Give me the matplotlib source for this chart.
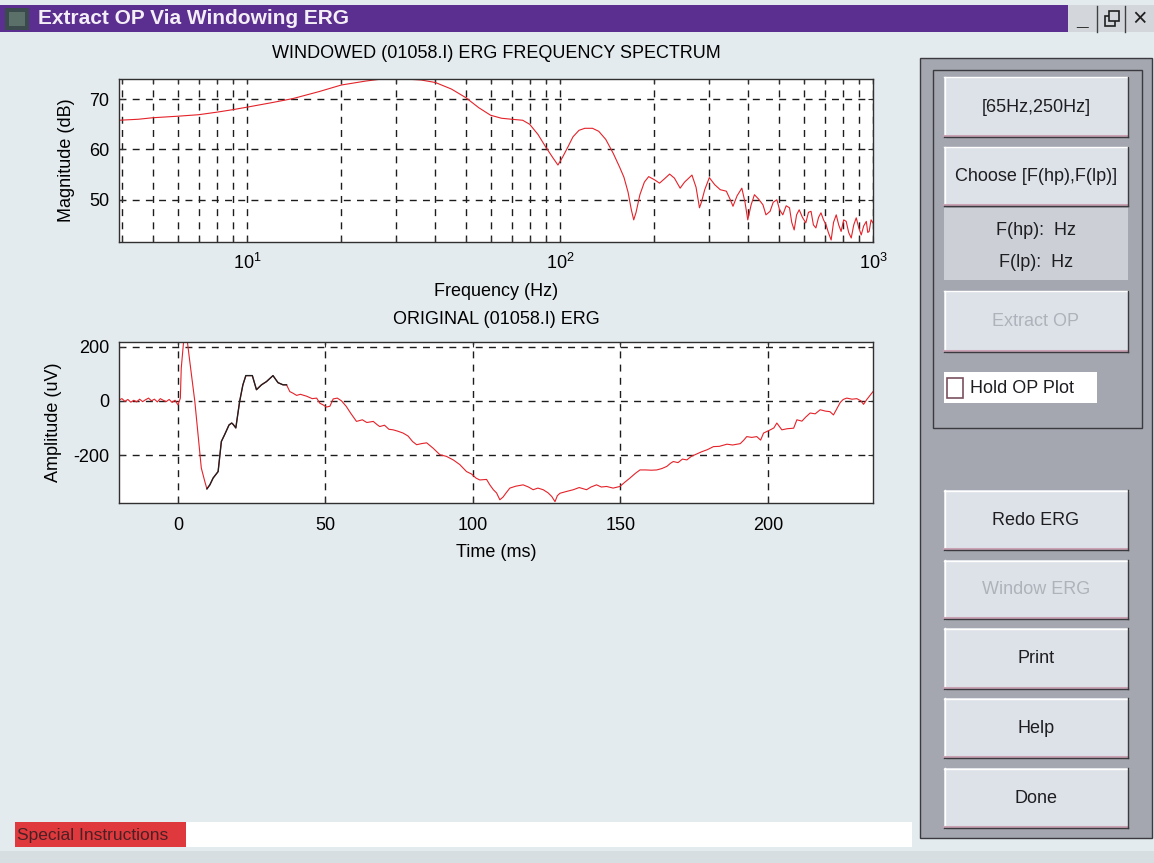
import numpy as np
import matplotlib.pyplot as plt
from matplotlib.patches import Rectangle
from matplotlib.ticker import NullFormatter

plt.rcParams['font.family'] = ['Liberation Sans', 'DejaVu Sans']
plt.rcParams['mathtext.fontset'] = 'custom'
plt.rcParams['mathtext.rm'] = 'Liberation Sans'
plt.rcParams['mathtext.it'] = 'Liberation Sans:italic'
plt.rcParams['mathtext.bf'] = 'Liberation Sans:bold'
plt.rcParams['axes.unicode_minus'] = False

# windowed ERG spectrum
freq_hz = [3.9, 4.5, 5.0, 6.0, 7.0, 8.0, 9.0, 10, 12, 14, 17, 20, 24, 27, 32, 36, 40, 45,
           50, 55, 60, 65, 70, 76, 80, 85, 90, 95, 98.5, 102, 106, 110, 115, 120, 127,
           133, 140, 148, 155, 160, 165, 169, 172, 175, 180, 186, 192, 200, 208, 216,
           224, 232, 242, 250, 264, 272, 279, 283, 290, 300, 312, 325, 340, 350, 357,
           368, 381, 390, 398, 408, 418, 430, 445, 455, 469, 480, 493, 503, 515, 528,
           541, 550, 560, 570, 581, 595, 610, 622, 634, 645, 657, 670, 682, 695, 708,
           720, 735, 748, 763, 777, 791, 806, 821, 836, 852, 868, 884, 900, 917, 934,
           952, 962, 972, 986, 1000]
mag_db = [65.8, 66.0, 66.3, 66.6, 66.9, 67.4, 67.9, 68.4, 69.3, 70.1, 71.5, 72.8, 73.6,
          74.0, 74.0, 73.8, 73.3, 72.0, 70.3, 68.3, 66.8, 66.2, 66.0, 65.8, 65.0, 63.0,
          60.5, 58.3, 56.9, 58.5, 60.5, 62.5, 63.8, 64.2, 64.2, 63.6, 62.0, 59.2, 56.5,
          54.5, 51.5, 48.0, 46.0, 47.5, 51.0, 53.5, 54.6, 54.0, 53.3, 54.2, 55.1, 54.3,
          52.3, 53.5, 54.9, 52.5, 48.4, 49.5, 52.0, 54.4, 53.0, 52.0, 51.7, 50.0, 48.7,
          50.8, 52.3, 49.5, 46.0, 49.0, 51.0, 50.2, 49.0, 47.0, 47.7, 49.5, 50.0, 48.0,
          47.0, 48.8, 48.4, 45.5, 44.0, 47.0, 48.0, 46.5, 45.4, 47.5, 47.7, 45.0, 44.4,
          46.5, 47.4, 46.0, 45.0, 43.5, 42.0, 45.5, 47.0, 45.0, 43.7, 46.0, 45.7, 43.5,
          42.4, 45.0, 46.4, 44.5, 43.0, 44.8, 45.7, 43.5, 43.7, 46.0, 45.4]

# original ERG trace
erg_t = [-20, -19, -18, -17, -16, -15, -14, -13, -12, -11, -10, -9, -8, -7, -6, -5, -4,
         -3, -2, -1, 0, 0.8, 1.1, 1.9, 2.5, 3.1, 4.0, 5.7, 6.8, 7.9, 9.1, 9.8, 10.8, 11.9,
         13.6, 14.7, 15.8, 17.3, 18.2, 18.7, 19.6, 20.9, 22.0, 23.0, 25.2, 26.6, 28.3,
         30.0, 32.2, 33.9, 35.6, 36.8, 37.9, 39.0, 40.2, 41.5, 43.6, 45.5, 47.0, 48.1,
         49.2, 50.3, 51.5, 52.6, 54.0, 55.4, 57.0, 58.5, 60.5, 62.5, 64.0, 66.2, 67.5,
         68.4, 70.0, 71.5, 72.9, 74.5, 76.3, 78.0, 79.5, 80.9, 82.5, 84.3, 86.5, 88.8,
         91.0, 93.3, 95.5, 97.8, 99.5, 101.0, 102.3, 104.6, 105.7, 106.9, 108.0, 109.1,
         110.2, 111.2, 112.5, 114.5, 117.0, 118.8, 120.4, 122.0, 123.8, 125.5, 126.7,
         127.8, 128.6, 129.5, 131.5, 134.0, 136.0, 138.5, 140.0, 141.9, 143.5, 145.3,
         147.5, 149.8, 151.5, 153.2, 155.0, 156.6, 158.5, 160.5, 162.3, 164.0, 165.7,
         167.0, 167.9, 169.5, 171.0, 172.5, 174.0, 175.9, 177.5, 179.5, 181.5, 183.5,
         186.1, 188.0, 190.6, 191.8, 192.8, 194.5, 196.2, 197.5, 198.5, 200.8, 202.0,
         203.0, 204.7, 206.5, 208.7, 209.8, 211.5, 212.8, 214.3, 216.0, 217.7, 219.5,
         221.0, 222.2, 223.3, 224.5, 225.5, 226.7, 228.5, 230.1, 231.5, 232.4, 233.5, 235.6]
erg_uv = [3, 8, -2, 5, -5, 2, -4, 6, -3, 4, 10, 0, 6, -4, 8, 2, -3, 5, -6, 2, -15, 10, 120,
          219, 228, 225, 145, -2, -125, -248, -298, -325, -310, -285, -261, -150, -125,
          -89, -82, -87, -100, -2, 59, 93, 93, 41, 59, 71, 93, 67, 59, 59, 34, 28, 20, 24,
          17, 8, 10, -9, -15, -23, -20, 7, 10, 0, -20, -45, -76, -70, -80, -76, -88, -95,
          -90, -105, -107, -112, -119, -130, -150, -162, -158, -155, -175, -199, -205,
          -218, -235, -261, -270, -285, -292, -290, -310, -328, -340, -365, -355, -340,
          -322, -315, -310, -318, -328, -322, -328, -340, -353, -372, -350, -341, -335,
          -328, -320, -328, -318, -310, -318, -316, -322, -316, -300, -285, -268, -255,
          -255, -256, -255, -250, -242, -230, -224, -228, -215, -218, -205, -196, -188,
          -180, -169, -168, -160, -163, -158, -145, -132, -135, -132, -145, -119, -107,
          -100, -82, -107, -103, -101, -70, -75, -60, -45, -48, -33, -38, -40, -52, -30,
          -6, 5, 10, 6, 8, 0, -13, 5, 34]
window_ms = (9.8, 36.8)

spec_xticks = [10, 100, 1000]
spec_xticklabels = ['$10^1$', '$10^2$', '$10^3$']
spec_yticks = [50, 60, 70]
erg_xticks = [0, 50, 100, 150, 200]
erg_yticks = [-200, 0, 200]

upper_buttons = ['[65Hz,250Hz]', 'Choose [F(hp),F(lp)]', None, 'Extract OP']
lower_buttons = ['Redo ERG', 'Window ERG', 'Print', 'Help', 'Done']
greyed = ['Extract OP', 'Window ERG']

W, H = 1154, 863
BG = '#e4ebee'
RED = '#e42229'
GRID = '#1c1c1c'
FS = 13

fig = plt.figure(figsize=(W / 100, H / 100), dpi=100, facecolor=BG)

# pixel-space canvas for the window chrome
bg = fig.add_axes([0, 0, 1, 1], zorder=0)
bg.set_xlim(0, W)
bg.set_ylim(H, 0)
bg.axis('off')


def box(x0, y0, x1, y1, fc, ec='none', lw=0, z=1):
    bg.add_patch(Rectangle((x0, y0), x1 - x0, y1 - y0, facecolor=fc, edgecolor=ec,
                           linewidth=lw, zorder=z))


def button(x0, y0, x1, y1, label):
    box(x0, y0, x1, y1, '#dde2e8', z=3)
    bg.plot([x0, x1], [y0 + 0.5, y0 + 0.5], color='white', lw=1, zorder=4)
    bg.plot([x0 + 0.5, x0 + 0.5], [y0, y1], color='white', lw=1, zorder=4)
    bg.plot([x0, x1], [y1 - 1, y1 - 1], color='#c9a3b4', lw=1.5, zorder=4)
    bg.plot([x0, x1], [y1, y1], color='#3a3a40', lw=1, zorder=4)
    bg.plot([x1, x1], [y0, y1], color='#3a3a40', lw=1, zorder=4)
    col = '#aeb3bb' if label in greyed else '#1e1e22'
    bg.text((x0 + x1) / 2, (y0 + y1) / 2, label, ha='center', va='center',
            fontsize=FS, color=col, zorder=5)


# title bar
box(0, 5, 1068, 32, '#5b2f8f')
box(5, 8, 29, 30, '#3b4a4c', z=2)
box(9, 12, 25, 26, '#5a7068', z=2)
bg.text(38, 19, 'Extract OP Via Windowing ERG', fontsize=15, fontweight='bold',
        color='#f4eef6', va='center', ha='left', zorder=3)
box(1068, 5, W, 32, '#d3d7dc')
bg.text(1082, 20, '_', fontsize=15, fontweight='bold', ha='center', va='center', color='#202020')
bg.plot([1097, 1097], [6, 32], color='#404040', lw=1)
bg.plot([1125, 1125], [6, 32], color='#404040', lw=1)
box(1105, 16, 1115, 26, 'none', ec='#202020', lw=1.2, z=3)
box(1109, 11, 1119, 21, '#d3d7dc', ec='#202020', lw=1.2, z=3)
bg.text(1140, 19, '×', fontsize=18, ha='center', va='center', color='#202020')

# right hand control panel
box(920, 58, 1152, 838, '#a4a7af', ec='#3a3a40', lw=1)
box(933, 70, 1142, 428, '#a4a7af', ec='#3a3a40', lw=1, z=2)

upper_pos = [(77, 137), (147, 206), (208, 280), (291, 352)]
for label, (y0, y1) in zip(upper_buttons, upper_pos):
    if label is None:
        box(944, y0, 1128, y1, '#ccd0d6', z=3)
        bg.text(1036, 230, 'F(hp):  Hz', ha='center', va='center', fontsize=FS,
                color='#1e1e22', zorder=5)
        bg.text(1036, 262, 'F(lp):  Hz', ha='center', va='center', fontsize=FS,
                color='#1e1e22', zorder=5)
    else:
        button(944, y0, 1128, y1, label)

box(944, 372, 1097, 403, 'white', z=3)
box(947, 378, 963, 398, 'white', ec='#7a5060', lw=1.2, z=4)
bg.text(970, 388, 'Hold OP Plot', ha='left', va='center', fontsize=FS,
        color='#1e1e22', zorder=5)

lower_pos = [(490, 550), (560, 619), (628, 689), (698, 758), (768, 828)]
for label, (y0, y1) in zip(lower_buttons, lower_pos):
    button(944, y0, 1128, y1, label)

# status strip
box(15, 822, 186, 847, '#e0393d', z=2)
bg.text(17, 835, 'Special Instructions', ha='left', va='center', fontsize=12.5,
        color='#4a2024', zorder=3)
box(186, 822, 912, 847, 'white', z=2)
box(0, 851, W, H, '#d6dee2', z=1)


def style_axes(ax):
    ax.set_facecolor('white')
    for s in ax.spines.values():
        s.set_color('#303030')
        s.set_linewidth(1.0)
    ax.tick_params(which='both', direction='in', top=True, right=True,
                   length=3.6, width=0.8, color='#303030', labelsize=FS)
    ax.grid(True, which='both', linestyle=(0, (5, 4.5)), color=GRID, linewidth=1.0)


# spectrum
ax1 = fig.add_axes([119 / W, 1 - 242 / H, 754 / W, 163 / H], zorder=2)
ax1.semilogx(freq_hz, mag_db, color=RED, lw=0.8)
ax1.set_xlim(3.9, 1000)
ax1.set_ylim(41.6, 74)
ax1.set_xticks(spec_xticks, spec_xticklabels)
ax1.xaxis.set_minor_formatter(NullFormatter())
ax1.set_yticks(spec_yticks)
style_axes(ax1)
ax1.tick_params(axis='x', pad=8)
ax1.tick_params(axis='y', pad=7)
ax1.set_title('WINDOWED (01058.I) ERG FREQUENCY SPECTRUM', fontsize=FS, pad=15)
ax1.set_xlabel('Frequency (Hz)', fontsize=FS, labelpad=7)
ax1.set_ylabel('Magnitude (dB)', fontsize=FS, labelpad=10)

# original erg
t = np.array(erg_t)
v = np.array(erg_uv)
inwin = (t >= window_ms[0]) & (t <= window_ms[1])
ax2 = fig.add_axes([119 / W, 1 - 503 / H, 754 / W, 161 / H], zorder=2)
ax2.plot(t, v, color=RED, lw=0.8)
ax2.plot(t[inwin], v[inwin], color='#202020', lw=1.0)
ax2.set_xlim(-20, 235.6)
ax2.set_ylim(-377, 217)
ax2.set_xticks(erg_xticks)
ax2.set_yticks(erg_yticks)
style_axes(ax2)
ax2.grid(False, which='minor')
ax2.tick_params(axis='x', pad=10)
ax2.tick_params(axis='y', pad=7)
ax2.set_title('ORIGINAL (01058.I) ERG', fontsize=FS, pad=13)
ax2.set_xlabel('Time (ms)', fontsize=FS, labelpad=7)
ax2.set_ylabel('Amplitude (uV)', fontsize=FS, labelpad=8)

fig.savefig('out.png', dpi=100, facecolor=BG)
